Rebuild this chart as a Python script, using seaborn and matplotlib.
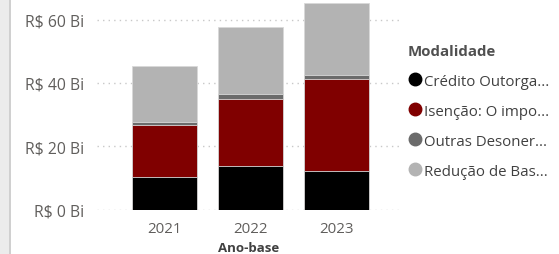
import numpy as np
import pandas as pd
import matplotlib
matplotlib.use("Agg")
import matplotlib.pyplot as plt
import seaborn as sns
from matplotlib.lines import Line2D
from matplotlib.patches import Rectangle

anos = ["2021", "2022", "2023"]
modalidades = ["Crédito Outorga...", "Isenção: O impo...", "Outras Desoner...", "Redução de Bas..."]
credito = [10.4, 13.7, 12.1]
isencao = [16.4, 21.3, 29.2]
outras = [0.9, 1.5, 1.3]
reducao = [17.8, 21.2, 22.6]
cores = ["#000000", "#800000", "#6b6b6b", "#b3b3b3"]
yticks = [0, 20, 40, 60]
ylabels = ["R$ 0 Bi", "R$ 20 Bi", "R$ 40 Bi", "R$ 60 Bi"]

sns.set_style("white")
plt.rcParams["font.family"] = ["Open Sans", "DejaVu Sans"]

df = pd.DataFrame({"Ano": anos, modalidades[0]: credito, modalidades[1]: isencao,
                   modalidades[2]: outras, modalidades[3]: reducao})
cum = df[modalidades].cumsum(axis=1)

fig = plt.figure(figsize=(5.59, 2.55), dpi=100)
ax = fig.add_axes([97/559, 1 - 210.7/255, 303/559, 210.7/255])

# draw from the top of the stack down so each layer covers the one above
for i in range(len(modalidades) - 1, -1, -1):
    sns.barplot(x=df["Ano"], y=cum[modalidades[i]], color=cores[i], width=0.756,
                edgecolor="#d9d9d9", linewidth=0.6, ax=ax, zorder=3, saturation=1)

ax.set_ylim(0, 66.5)
ax.set_xlim(-0.788, 2.735)
ax.set_yticks(yticks)
ax.set_yticklabels(ylabels)
ax.grid(axis="y", linestyle=(0, (1, 3)), color="#c8c8c8", linewidth=1, zorder=0)
ax.set_axisbelow(True)
for s in ax.spines.values():
    s.set_visible(False)
ax.tick_params(axis="both", length=0, labelsize=10.8, colors="#605e5c")
ax.tick_params(axis="y", pad=9, labelsize=11.3)
ax.tick_params(axis="x", pad=8)
ax.set_ylabel("")
ax.set_xlabel("Ano-base", fontsize=9.5, fontweight="bold", color="#404040", labelpad=4)

handles = [Line2D([0], [0], marker="o", linestyle="", markersize=9, markerfacecolor=c,
                  markeredgecolor=c) for c in cores]
leg = fig.legend(handles, modalidades, title="Modalidade", loc="upper left",
                 bbox_to_anchor=(408/559, 1 - 45.5/255), frameon=False, fontsize=10.8,
                 title_fontsize=10.8, handletextpad=0.15, labelspacing=1.0,
                 alignment="left", handlelength=0.9, borderaxespad=0, borderpad=0)
leg.get_title().set_fontweight("bold")
leg.get_title().set_color("#505050")
for t in leg.get_texts():
    t.set_color("#404040")

fig.patches.append(Rectangle((0, 0), 9/559, 1, transform=fig.transFigure,
                             facecolor="#ececec", edgecolor="none"))
fig.patches.append(Rectangle((9/559, 0), 1.5/559, 1, transform=fig.transFigure,
                             facecolor="#d0d0d0", edgecolor="none"))

fig.savefig("out.png", dpi=100)
